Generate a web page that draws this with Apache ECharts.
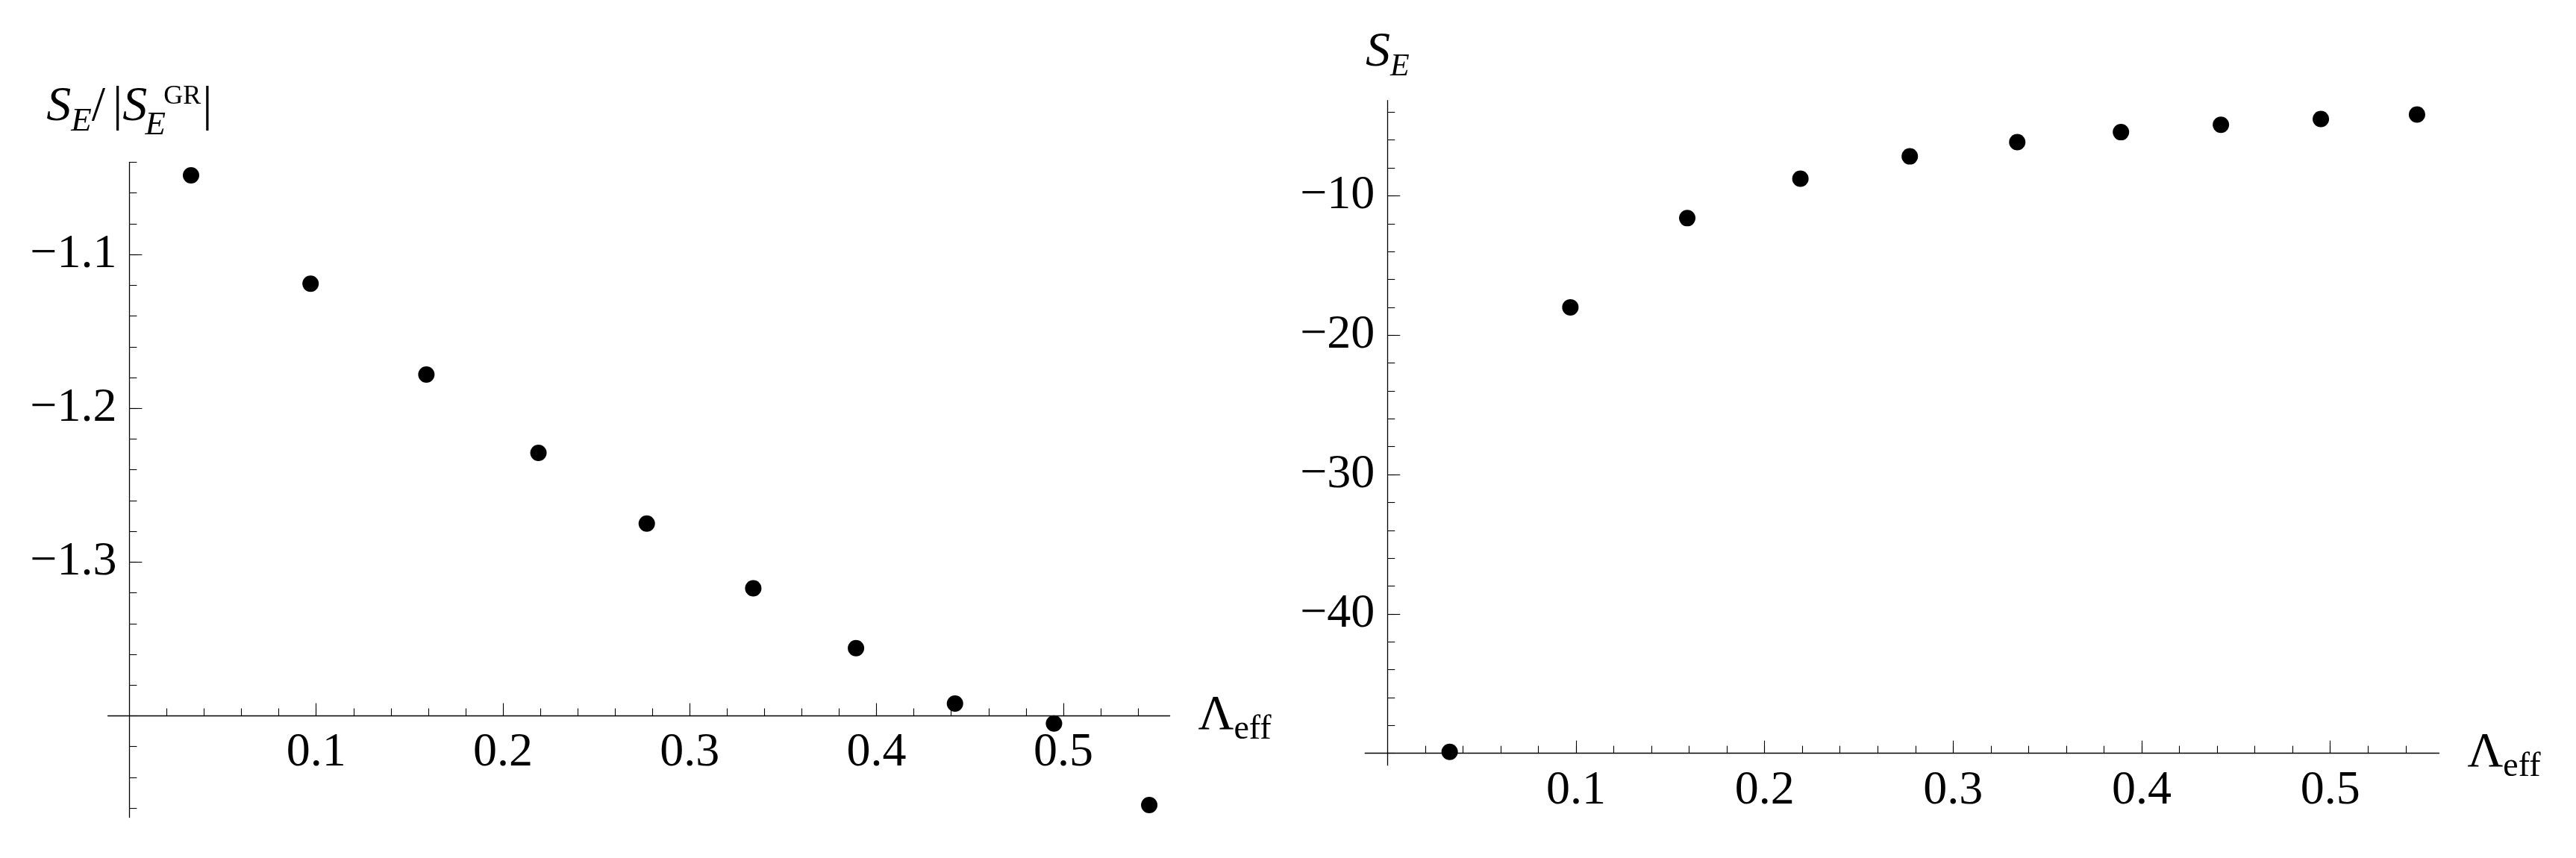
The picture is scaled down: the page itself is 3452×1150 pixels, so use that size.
<!DOCTYPE html>
<html>
<head>
<meta charset="utf-8">
<title>S_E against Lambda_eff</title>
<script src="https://cdn.jsdelivr.net/npm/echarts@6/dist/echarts.min.js"></script>
<style>
html, body { margin: 0; padding: 0; background: #fff; }
#chart { width: 3452px; height: 1150px; }
</style>
</head>
<body>
<div id="chart"></div>
<script>
// Lambda_eff of each point, same for both panels
const lambdaEff = [0.033, 0.097, 0.159, 0.219, 0.277, 0.334, 0.389, 0.442, 0.495, 0.546]
// left panel: S_E / |S_E^GR|
const ratioValues = [-1.0485, -1.119, -1.178, -1.229, -1.275, -1.317, -1.356, -1.392, -1.405, -1.458]
// right panel: S_E
const entropyValues = [-49.9, -18.0, -11.6, -8.77, -7.17, -6.15, -5.43, -4.9, -4.49, -4.17]

// tick labels
const xTickLabels = [0.1, 0.2, 0.3, 0.4, 0.5]
const ratioTickLabels = [-1.1, -1.2, -1.3]
const entropyTickLabels = [-10, -20, -30, -40]

const FONT = "Liberation Serif"

// tick positions between from and to
function steps(from, to, step) {
    const out = []
    const n = Math.round((to - from) / step)
    for (let i = 0; i <= n; i++) out.push(+(from + i * step).toFixed(6))
    return out
}

// tick labels go through rich text so the serif font sticks
const tickText = (v) => "{t|" + String(v).replace("-", "\u2212") + "}"

const rich = {
    t: { fontFamily: FONT, fontSize: 64, color: "#000" },
    it: { fontFamily: FONT, fontStyle: "italic", fontSize: 66, color: "#000", verticalAlign: "middle" },
    up: { fontFamily: FONT, fontSize: 66, color: "#000", verticalAlign: "middle" },
    bar: { fontFamily: FONT, fontSize: 66, color: "#000", verticalAlign: "middle", padding: [0, 0, 0, 10] },
    bar2: { fontFamily: FONT, fontSize: 66, color: "#000", verticalAlign: "middle", padding: [0, 0, 0, 2] },
    sub: { fontFamily: FONT, fontStyle: "italic", fontSize: 45, color: "#000", verticalAlign: "middle", padding: [38, 0, 0, 0] },
    subLow: { fontFamily: FONT, fontStyle: "italic", fontSize: 45, color: "#000", verticalAlign: "middle", width: 22, padding: [48, 0, 0, 0] },
    sup: { fontFamily: FONT, fontSize: 36, color: "#000", verticalAlign: "middle", padding: [0, 0, 28, 0] },
    subR: { fontFamily: FONT, fontStyle: "italic", fontSize: 42, color: "#000", verticalAlign: "middle", padding: [39, 0, 0, 0] },
    subUp: { fontFamily: FONT, fontSize: 46, color: "#000", verticalAlign: "middle", padding: [36, 0, 0, 0] },
}

const panels = [
    {
        grid: { left: 144.6, top: 217.5, width: 1423, height: 878 },
        xMin: -0.0115, xMax: 0.557,
        yMin: -1.466, yMax: -1.04, yCross: -1.4,
        values: ratioValues,
        yTicks: ratioTickLabels,
        yMinor: steps(-1.46, -1.04, 0.02),
        yName: "{it|S}{sub|E}{up|/}{bar||}{it|S}{subLow|E}{sup|GR}{bar2||}",
        yNameGap: 27,
        xLabelMargin: 18,
    },
    {
        grid: { left: 1829.2, top: 134.7, width: 1439.3, height: 891 },
        xMin: -0.0119, xMax: 0.5577,
        yMin: -50.86, yMax: -3.16, yCross: -50,
        values: entropyValues,
        yTicks: entropyTickLabels,
        yMinor: steps(-50, -4, 2),
        yName: "{it|S}{subR|E}",
        yNameGap: 24,
        xLabelMargin: 19,
    },
]

const chart = echarts.init(document.getElementById("chart"))

const grid = []
const xAxis = []
const yAxis = []
const series = []

panels.forEach((p, i) => {
    // axes cross at x = 0 and y = yCross, inside the plot box
    const xOffset = -((p.yCross - p.yMin) / (p.yMax - p.yMin)) * p.grid.height
    const yOffset = -((0 - p.xMin) / (p.xMax - p.xMin)) * p.grid.width
    const line = { color: "#000", width: 1.3 }
    const tickLine = { color: "#000", width: 1.1 }

    grid.push(Object.assign({ outerBoundsMode: "none" }, p.grid))

    xAxis.push({
        type: "value", gridIndex: i, position: "bottom",
        min: p.xMin, max: p.xMax, offset: xOffset,
        axisLine: { onZero: false, lineStyle: line },
        axisTick: { inside: true, length: 17, customValues: xTickLabels, lineStyle: tickLine },
        axisLabel: { customValues: xTickLabels, margin: p.xLabelMargin, formatter: tickText, rich },
        splitLine: { show: false },
        name: "{up|\u039B}{subUp|eff}", nameLocation: "end", nameGap: 38,
        nameTextStyle: { rich },
    })
    xAxis.push({
        type: "value", gridIndex: i, position: "bottom",
        min: p.xMin, max: p.xMax, offset: xOffset,
        axisLine: { show: false, onZero: false },
        axisTick: { inside: true, length: 10, customValues: steps(0.02, 0.54, 0.02), lineStyle: tickLine },
        axisLabel: { show: false },
        splitLine: { show: false },
    })

    yAxis.push({
        type: "value", gridIndex: i, position: "left",
        min: p.yMin, max: p.yMax, offset: yOffset,
        axisLine: { onZero: false, lineStyle: line },
        axisTick: { inside: true, length: 17, customValues: p.yTicks, lineStyle: tickLine },
        axisLabel: { customValues: p.yTicks, margin: 17, formatter: tickText, rich },
        splitLine: { show: false },
        name: p.yName, nameLocation: "end", nameGap: p.yNameGap,
        nameTextStyle: { rich },
    })
    yAxis.push({
        type: "value", gridIndex: i, position: "left",
        min: p.yMin, max: p.yMax, offset: yOffset,
        axisLine: { show: false, onZero: false },
        axisTick: { inside: true, length: 10, customValues: p.yMinor, lineStyle: tickLine },
        axisLabel: { show: false },
        splitLine: { show: false },
    })

    series.push({
        type: "scatter",
        xAxisIndex: 2 * i,
        yAxisIndex: 2 * i,
        data: lambdaEff.map((x, k) => [x, p.values[k]]),
        symbolSize: 22,
        itemStyle: { color: "#000", opacity: 1 },
        silent: true,
    })
})

chart.setOption({
    animation: false,
    backgroundColor: "#fff",
    textStyle: { fontFamily: FONT },
    grid,
    xAxis,
    yAxis,
    series,
})
</script>
</body>
</html>
